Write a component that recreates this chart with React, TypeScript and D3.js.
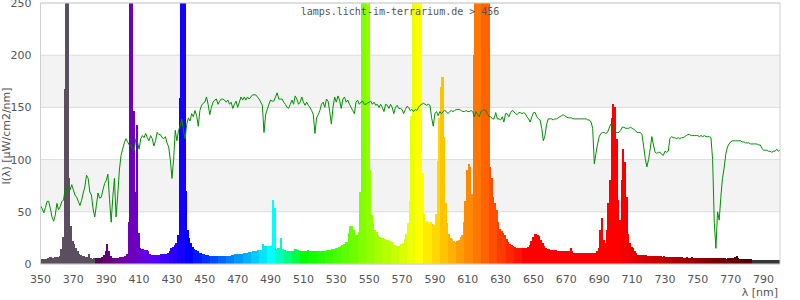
import React from 'react';
import * as d3 from 'd3';

const WL_START = 350;
const WL_END = 800;

// lamp spectrum, 1 nm steps from 350 nm
const spectrum: number[] = [
  4.5, 4.5, 4.5, 5, 6, 6.5, 6.5, 6, 6.5, 7, // 350
  7, 8, 14, 26, 168, 320, 320, 82, 36, 22, // 360
  19, 15, 12, 10, 9, 8, 8, 7, 7, 10, // 370
  6, 5, 6, 6, 5.5, 6, 6, 7, 9, 12, // 380
  19, 12, 8, 6, 6, 6, 6, 6, 6.5, 7, // 390
  7, 8, 10, 40, 300, 300, 147, 69, 133, 30, // 400
  15, 14, 14, 13, 13, 12, 10, 9, 9, 9, // 410
  9, 9, 9, 9.5, 9.5, 10, 10, 11, 12, 15, // 420
  16, 18, 20, 28, 159, 320, 320, 320, 70, 33, // 430
  25, 20, 16, 14, 13, 12, 11, 11, 10, 9.5, // 440
  9, 8.5, 8, 8, 8, 8, 8, 8, 8, 8, // 450
  8, 8, 7.7, 7.7, 7.7, 7.7, 8.5, 9, 9.5, 9.5, // 460
  10, 10, 10, 11, 11, 11, 11.5, 11.5, 11.5, 12.5, // 470
  12.5, 12.5, 13, 13, 13, 19, 17.5, 17.5, 17.5, 17.5, // 480
  18, 61, 54, 14, 15, 15, 25, 14, 13, 12.8, // 490
  12.8, 12.8, 12.5, 12.8, 14, 14, 13, 12.5, 12.8, 12.5, // 500
  12.8, 12.5, 13, 12.5, 12.8, 12.5, 12.8, 12.5, 12.8, 12.8, // 510
  12.5, 12.8, 12.8, 12.5, 13, 13, 13.5, 14, 14.5, 15, // 520
  15, 16, 17, 18, 19, 21, 21, 30, 36, 36, // 530
  33, 28, 28, 31, 69, 320, 320, 320, 320, 320, // 540
  90, 47, 39, 33, 31, 28, 26, 25, 25, 24, // 550
  23, 23, 22, 21, 19, 18, 17.5, 17, 17.5, 19, // 560
  20, 24, 29, 39, 60, 142, 320, 320, 320, 320, // 570
  320, 320, 87, 48, 41, 40, 38, 40, 38, 37, // 580
  48, 99, 140, 170, 179, 122, 58, 39, 29, 25, // 590
  24, 22, 21, 22, 23, 26, 28, 40, 60, 90, // 600
  96, 93, 67, 200, 320, 320, 320, 320, 320, 320, // 610
  320, 320, 320, 93, 82, 64, 58, 52, 40, 34, // 620
  32, 30, 28, 24, 21, 19, 18, 17, 16, 15, // 630
  15, 15, 15, 15, 15, 15, 16, 18, 22, 26, // 640
  29, 29, 28, 27, 23, 20, 17, 15, 14, 14, // 650
  13, 13, 13, 13, 12, 12, 12, 12, 12, 12, // 660
  12, 12, 15, 12, 11, 11, 11, 11, 11, 11, // 670
  11, 11, 11, 11, 11, 11, 11, 11, 12, 15, // 680
  33, 44, 23, 20, 33, 58, 80, 140, 153, 150, // 690
  120, 61, 42, 80, 110, 98, 64, 29, 20, 16, // 700
  15, 12, 11, 9, 9, 9, 8.5, 8.5, 8.5, 8, // 710
  7.5, 7.5, 7.5, 7.5, 8, 7.5, 7.5, 7.5, 7, 7.5, // 720
  7, 7, 6.5, 6.5, 6.5, 6.5, 6.5, 6.5, 6.5, 6.5, // 730
  6.5, 6, 6, 6.5, 6, 6, 6.5, 6, 6, 6, // 740
  6, 6, 6, 6, 6, 6, 6, 5.5, 5.5, 5.5, // 750
  5.5, 5.5, 5.5, 5.5, 5.5, 5.5, 5.5, 5, 5.5, 5.5, // 760
  5.5, 6, 6.5, 8, 6, 5, 5, 5, 5, 5, // 770
  5, 5, 4.5, 3.5, 3.5, 3.5, 3.5, 3.5, 3.5, 3.5, // 780
  3.5, 4, 3.5, 3.5, 3.5, 4, 3.5, 3.5, 4, 3.5, // 790
  3.5, // 800
];

// reference curve (green), 1 nm steps from 350 nm
const reference: number[] = [
  56, 53, 49, 54, 60, 60, 53, 45, 41, 47, // 350
  58, 52, 55, 60, 61, 72, 74, 69, 71, 76, // 360
  71, 66, 64, 60, 56, 61, 68, 74, 85, 82, // 370
  69, 66, 53, 45, 56, 68, 63, 64, 71, 77, // 380
  80, 86, 62, 40, 64, 82, 45, 66, 90, 104, // 390
  110, 116, 120, 117, 114, 113, 111, 109, 120, 117, // 400
  110, 120, 123, 121, 125, 121, 118, 123, 120, 113, // 410
  118, 126, 124, 124, 121, 120, 122, 116, 112, 100, // 420
  82, 100, 128, 118, 128, 132, 139, 128, 120, 134, // 430
  140, 137, 144, 141, 147, 142, 132, 147, 152, 154, // 440
  155, 160, 153, 143, 150, 155, 157, 158, 153, 156, // 450
  158, 158, 157, 155, 157, 153, 155, 149, 153, 156, // 460
  150, 155, 160, 157, 160, 157, 160, 158, 160, 162, // 470
  162, 162, 160, 158, 155, 152, 126, 143, 148, 153, // 480
  157, 156, 156, 160, 164, 158, 158, 158, 155, 153, // 490
  150, 149, 153, 157, 153, 161, 158, 153, 155, 160, // 500
  155, 152, 155, 152, 150, 147, 143, 125, 140, 143, // 510
  147, 153, 155, 150, 158, 156, 146, 134, 150, 160, // 520
  155, 161, 157, 149, 158, 160, 155, 157, 153, 150, // 530
  147, 144, 155, 157, 153, 155, 156, 153, 153, 154, // 540
  155, 156, 153, 155, 152, 153, 150, 153, 150, 146, // 550
  153, 152, 149, 153, 150, 144, 150, 152, 149, 149, // 560
  148, 144, 148, 151, 150, 147, 148, 146, 148, 147, // 570
  150, 152, 153, 154, 153, 152, 153, 152, 140, 132, // 580
  144, 146, 142, 146, 144, 146, 147, 146, 144, 146, // 590
  147, 146, 147, 148, 148, 148, 147, 146, 146, 147, // 600
  146, 146, 147, 146, 141, 146, 143, 141, 146, 147, // 610
  148, 147, 144, 141, 141, 139, 139, 145, 139, 139, // 620
  138, 141, 136, 144, 144, 141, 145, 147, 146, 144, // 630
  143, 145, 145, 144, 145, 144, 141, 139, 136, 141, // 640
  145, 145, 141, 139, 138, 130, 118, 123, 134, 139, // 650
  139, 139, 138, 139, 139, 140, 141, 142, 143, 142, // 660
  141, 140, 140, 140, 139, 139, 139, 139, 139, 139, // 670
  139, 139, 139, 138, 138, 136, 130, 96, 106, 115, // 680
  122, 125, 126, 126, 125, 126, 130, 134, 131, 128, // 690
  126, 126, 126, 128, 131, 131, 130, 130, 130, 131, // 700
  130, 129, 128, 126, 126, 126, 124, 113, 101, 93, // 710
  100, 110, 122, 114, 107, 106, 107, 107, 105, 104, // 720
  108, 107, 108, 120, 122, 121, 121, 120, 121, 120, // 730
  121, 121, 122, 123, 124, 124, 123, 123, 123, 123, // 740
  123, 122, 123, 122, 123, 122, 122, 122, 121, 100, // 750
  40, 15, 50, 42, 64, 82, 92, 105, 112, 115, // 760
  117, 118, 118, 118, 118, 118, 118, 117, 117, 116, // 770
  116, 116, 115, 115, 115, 115, 115, 114, 114, 111, // 780
  109, 109, 109, 108, 108, 107, 108, 108, 110, 108, // 790
  109, // 800
];

const xTicks = [350, 370, 390, 410, 430, 450, 470, 490, 510, 530, 550, 570, 590, 610, 630, 650, 670, 690, 710, 730, 750, 770, 790];
const yTicks = [0, 50, 100, 150, 200, 250];
const bands = [[50, 100], [150, 200]];
const title = 'lamps.licht-im-terrarium.de > 456';
const xLabel = 'λ [nm]';
const yLabel = 'I(λ) [µW/cm2/nm]';

function wlColor(wl: number): string {
  const w = Math.round(wl / 5) * 5;
  if (w <= 380) return '#5b4f5f';
  if (w >= 785) return '#363636';
  let r = 0, g = 0, b = 0;
  if (w < 440) { r = (440 - w) / 60; b = 1; }
  else if (w < 490) { g = (w - 440) / 50; b = 1; }
  else if (w < 510) { g = 1; b = (510 - w) / 20; }
  else if (w < 580) { r = (w - 510) / 70; g = 1; }
  else if (w < 645) { r = 1; g = (645 - w) / 65; }
  else { r = 1; }
  let f = 1;
  if (w < 420) f = 0.3 + 0.7 * (w - 380) / 40;
  else if (w > 700) f = 0.3 + 0.7 * (780 - w) / 80;
  return d3.rgb(Math.round(r * f * 255), Math.round(g * f * 255), Math.round(b * f * 255)).formatHex();
}

export default function App() {
  const W = 800, H = 300;
  const left = 40.5, right = 780, top = 3, bottom = 264;
  const x = d3.scaleLinear().domain([WL_START, WL_END]).range([left, right]);
  const y = d3.scaleLinear().domain([0, 250]).range([bottom, top]);

  const refLine = d3.line<number>()
    .x((_, i) => x(WL_START + i))
    .y((d) => y(d));

  const gray = '#555';
  const font = "'DejaVu Sans', sans-serif";

  return (
    <svg width={W} height={H} style={{ position: 'absolute', left: 0, top: 0, background: '#fff' }}>
      <defs>
        <clipPath id="plot">
          <rect x={left} y={top} width={right - left} height={bottom - top} />
        </clipPath>
      </defs>
      {bands.map(([a, b]) => (
        <rect key={a} x={left} y={y(b)} width={right - left} height={y(a) - y(b)} fill="#f3f3f3" />
      ))}
      {yTicks.map((t) => (
        <line key={t} x1={left} x2={right} y1={y(t)} y2={y(t)} stroke="#dcdcdc" strokeWidth={1} />
      ))}
      <g clipPath="url(#plot)" shapeRendering="crispEdges">
        {spectrum.map((v, i) => {
          const wl = WL_START + i;
          const x0 = x(wl);
          const x1 = x(wl + 1);
          const vv = Math.min(v, 260);
          return (
            <rect key={wl} x={x0} y={y(vv)} width={x1 - x0 + 0.4} height={y(0) - y(vv)} fill={wlColor(wl)} />
          );
        })}
      </g>
      <path d={refLine(reference) || ''} fill="none" stroke="#008e00" strokeWidth={1} clipPath="url(#plot)" />
      <line x1={left} x2={left} y1={top} y2={bottom} stroke="#d0d0d0" />
      <line x1={right} x2={right} y1={top} y2={bottom} stroke="#d0d0d0" />
      <line x1={left} x2={right} y1={top} y2={top} stroke="#d0d0d0" />
      <line x1={left} x2={right} y1={bottom} y2={bottom} stroke="#d0d0d0" />
      {xTicks.map((t) => (
        <text key={t} x={x(t)} y={282.5} textAnchor="middle" fontFamily={font} fontSize={11} fill={gray}>{t}</text>
      ))}
      {yTicks.map((t) => (
        <text key={t} x={31.5} y={y(t) + 4} textAnchor="end" fontFamily={font} fontSize={11} fill={gray}>{t}</text>
      ))}
      <text x={778} y={296} textAnchor="end" fontFamily={font} fontSize={11} fill={gray}>{xLabel}</text>
      <text transform="translate(10,136) rotate(-90)" textAnchor="middle" fontFamily={font} fontSize={11} fill={gray}>{yLabel}</text>
      <text x={400} y={14.5} textAnchor="middle" fontFamily="'DejaVu Sans Mono', monospace" fontSize={10} fill={gray}>{title}</text>
    </svg>
  );
}
